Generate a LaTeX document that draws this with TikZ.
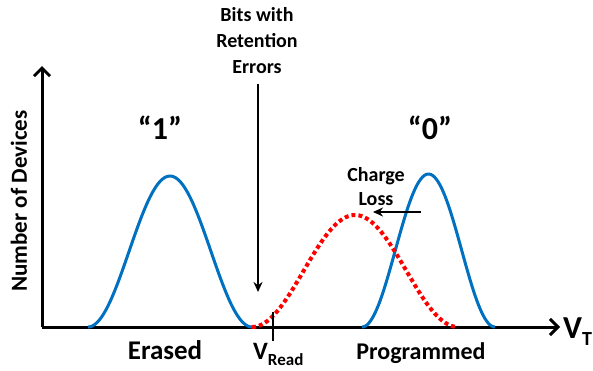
\documentclass[tikz,border=0pt]{standalone}
\usepackage{fontspec}
\setmainfont{Carlito}
\usetikzlibrary{arrows.meta}
\definecolor{curveblue}{RGB}{0,112,192}
\begin{document}
\begin{tikzpicture}[x=1pt,y=-1pt,
  axis/.style={line width=3pt,-{Straight Barb[length=8pt,width=16pt,line width=3pt]}},
  bluecurve/.style={curveblue,line width=3pt},
  redcurve/.style={red,line width=4pt,dash pattern=on 4pt off 3pt},
  lbl/.style={font=\bfseries\fontsize{#1}{#1}\selectfont,inner sep=0pt},
  note/.style={font=\bfseries\fontsize{20}{26}\selectfont,align=center,inner sep=0pt},
  pointer/.style={line width=2pt,-{Stealth[length=10pt,width=9pt]}}]
\useasboundingbox (0,0) rectangle (593,370);
\coordinate (O) at (42,327);
\coordinate (Ytop) at (42,66);
\coordinate (Xend) at (560,327);
\draw[axis] (O) -- (Ytop);
\draw[axis] (O) -- (Xend);
% curves
\draw[bluecurve] plot[domain=88:252,samples=80,smooth] (\x,{327-151*(1+cos((\x-170)*2.1951))/2});
\draw[bluecurve] plot[domain=362:495,samples=80,smooth] (\x,{327-153*(1+cos((\x-428.5)*2.7068))/2});
\draw[redcurve] plot[domain=252:458,samples=80,smooth] (\x,{327-112*(1+cos((\x-355)*1.7476))/2});
% tick
\coordinate (tkA) at (273,312);
\coordinate (tkB) at (273,341);
\draw[line width=2.5pt] (tkA) -- (tkB);
% labels
\node[lbl=23,rotate=90,anchor=center] (ylab) at (19,201) {Number of Devices};
\node[lbl=32] (one) at (160,128) {“1”};
\node[lbl=32] (zero) at (430,128) {“0”};
\node[lbl=27,anchor=base] (er) at (165,359) {Erased};
\node[lbl=24,anchor=base] (pr) at (421,359) {Programmed};
\node[lbl=25,anchor=base west] (vr) at (253,359) {V\raisebox{-6pt}{\fontsize{17}{17}\selectfont Read}};
\node[lbl=32,anchor=base west] (vt) at (563,338) {V\raisebox{-7pt}{\fontsize{20}{20}\selectfont T}};
\node[note] (bits) at (257,41) {Bits with\\Retention\\Errors};
\coordinate (bitsS) at (258,84);
\coordinate (bitsEnd) at (258,292);
\draw[pointer] (bitsS) -- (bitsEnd);
\node[note,font=\bfseries\fontsize{20}{24}\selectfont] (cl) at (376,187) {Charge\\Loss};
\coordinate (clS) at (421,212);
\coordinate (clE) at (373,212);
\draw[pointer] (clS) -- (clE);
\end{tikzpicture}
\end{document}
